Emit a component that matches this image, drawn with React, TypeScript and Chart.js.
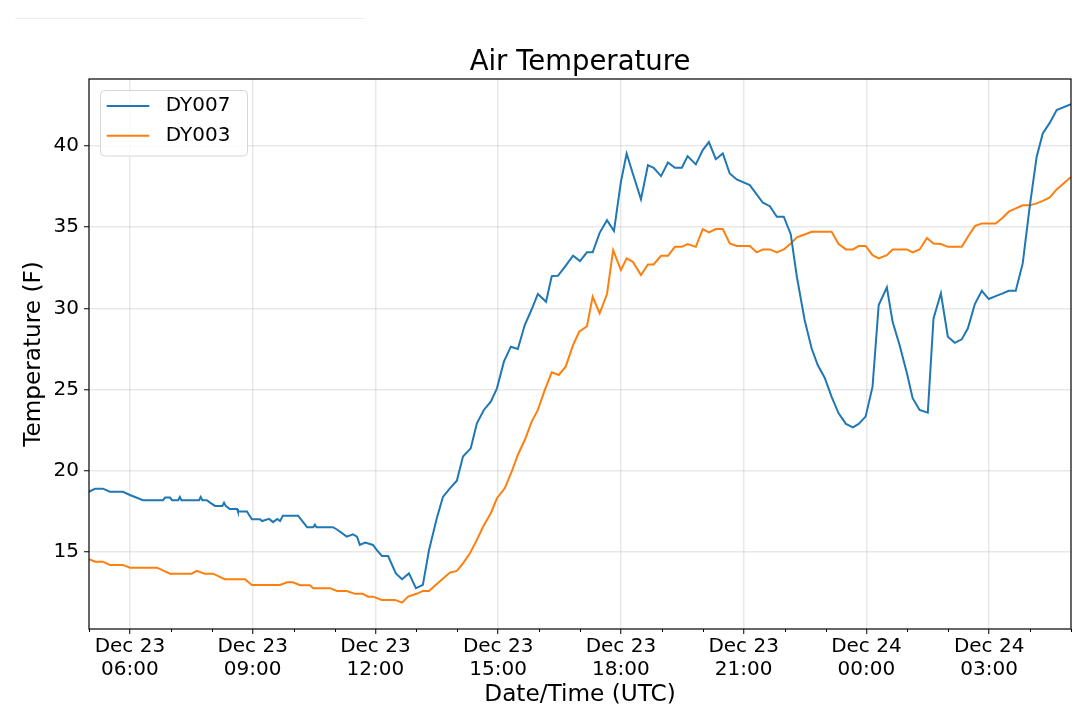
import React, { useEffect, useRef } from "react";
import { Chart, registerables } from "chart.js";

Chart.register(...registerables);

const FONT = "'DejaVu Sans', 'Liberation Sans', sans-serif";

const chartTitle = "Air Temperature";
const xAxisTitle = "Date/Time (UTC)";
const yAxisTitle = "Temperature (F)";
const seriesNames = ["DY007", "DY003"];
const seriesColors = ["#1f77b4", "#ff7f0e"];

// time in hours since Dec 23 00:00 UTC
const dy007Hours = [
  5.0, 5.15, 5.34, 5.51, 5.83, 6.0, 6.32, 6.81, 6.86, 6.98, 7.03, 7.18, 7.22, 7.26, 7.69, 7.73, 7.77, 7.88,
  7.96, 8.08, 8.26, 8.3, 8.34, 8.44, 8.62, 8.64, 8.86, 8.98, 9.18, 9.23, 9.4, 9.5, 9.6, 9.67, 9.74, 10.11,
  10.33, 10.48, 10.52, 10.56, 10.96, 11.06, 11.3, 11.45, 11.55, 11.62, 11.75, 11.94, 12.03, 12.16, 12.31,
  12.5, 12.65, 12.82, 12.99, 13.16, 13.31, 13.5, 13.65, 13.82, 13.99, 14.14, 14.33, 14.48, 14.65, 14.82,
  14.97, 15.14, 15.31, 15.48, 15.65, 15.82, 15.97, 16.17, 16.31, 16.46, 16.63, 16.83, 17.0, 17.17, 17.31,
  17.48, 17.66, 17.83, 18.0, 18.14, 18.29, 18.49, 18.66, 18.8, 18.98, 19.15, 19.32, 19.49, 19.63, 19.83,
  20.0, 20.15, 20.32, 20.49, 20.66, 20.83, 21.15, 21.47, 21.64, 21.81, 21.98, 22.15, 22.3, 22.49, 22.66,
  22.81, 22.98, 23.15, 23.32, 23.5, 23.67, 23.81, 23.98, 24.15, 24.3, 24.5, 24.64, 24.81, 24.99, 25.13,
  25.3, 25.5, 25.64, 25.82, 25.99, 26.16, 26.33, 26.48, 26.65, 26.82, 26.99, 27.16, 27.33, 27.48, 27.65,
  27.82, 27.99, 28.16, 28.31, 28.48, 28.65, 29.0,
];
const dy007Temps = [
  18.72, 18.91, 18.91, 18.72, 18.72, 18.52, 18.2, 18.2, 18.36, 18.36, 18.2, 18.2, 18.4, 18.2, 18.2, 18.4, 18.2, 18.2,
  18.05, 17.85, 17.85, 18.05, 17.85, 17.66, 17.66, 17.5, 17.5, 17.03, 17.03, 16.92, 17.05, 16.85, 17.05, 16.92, 17.25, 17.25,
  16.54, 16.54, 16.7, 16.54, 16.54, 16.4, 15.96, 16.1, 15.96, 15.45, 15.6, 15.45, 15.14, 14.77, 14.77,
  13.7, 13.34, 13.7, 12.79, 12.99, 15.14, 17.09, 18.4, 18.93, 19.4, 20.88, 21.39, 22.93, 23.75, 24.26,
  25.08, 26.72, 27.64, 27.5, 28.97, 29.94, 30.88, 30.4, 31.98, 32.0, 32.55, 33.23, 32.9, 33.44, 33.44,
  34.64, 35.42, 34.75, 37.78, 39.52, 38.29, 36.7, 38.8, 38.64, 38.13, 38.97, 38.64, 38.64, 39.36, 38.85,
  39.73, 40.22, 39.17, 39.52, 38.29, 37.92, 37.58, 36.49, 36.28, 35.63, 35.63, 34.56, 31.94, 29.28, 27.54,
  26.51, 25.73, 24.56, 23.54, 22.89, 22.68, 22.89, 23.34, 25.18, 30.2, 31.29, 29.17, 27.74, 26.0, 24.47,
  23.75, 23.58, 29.38, 30.92, 28.25, 27.88, 28.09, 28.77, 30.26, 31.08, 30.57, 30.75, 30.92, 31.08, 31.08,
  32.76, 36.24, 39.31, 40.75, 41.4, 42.19, 42.55,
];

const dy003Hours = [
  5.0, 5.15, 5.34, 5.51, 5.83, 6.0, 6.66, 6.98, 7.51, 7.63, 7.83, 8.03, 8.32, 8.81, 8.98, 9.67, 9.84, 9.98,
  10.16, 10.4, 10.48, 10.89, 11.06, 11.3, 11.5, 11.69, 11.82, 11.94, 12.16, 12.48, 12.65, 12.8, 13.02, 13.16,
  13.31, 13.5, 13.82, 13.99, 14.14, 14.31, 14.48, 14.63, 14.82, 14.97, 15.16, 15.33, 15.48, 15.65, 15.82,
  15.97, 16.14, 16.31, 16.48, 16.65, 16.83, 16.98, 17.17, 17.31, 17.48, 17.66, 17.81, 18.0, 18.14, 18.29,
  18.49, 18.66, 18.8, 18.98, 19.15, 19.32, 19.49, 19.63, 19.83, 20.0, 20.15, 20.32, 20.49, 20.66, 20.83,
  21.15, 21.32, 21.47, 21.64, 21.81, 21.98, 22.15, 22.3, 22.49, 22.66, 23.15, 23.32, 23.5, 23.67, 23.81,
  23.98, 24.15, 24.3, 24.5, 24.64, 24.99, 25.13, 25.3, 25.48, 25.64, 25.82, 25.99, 26.33, 26.48, 26.65,
  26.82, 27.16, 27.33, 27.48, 27.65, 27.82, 27.99, 28.16, 28.31, 28.48, 28.65, 29.0,
];
const dy003Temps = [
  14.57, 14.42, 14.42, 14.22, 14.22, 14.05, 14.05, 13.68, 13.68, 13.86, 13.68, 13.68, 13.34, 13.34, 12.99, 12.99, 13.15, 13.15,
  12.97, 12.97, 12.79, 12.79, 12.62, 12.62, 12.44, 12.44, 12.27, 12.27, 12.07, 12.07, 11.9, 12.27, 12.46, 12.62,
  12.62, 13.05, 13.75, 13.85, 14.32, 14.94, 15.76, 16.57, 17.4, 18.32, 18.93, 19.95, 20.98, 21.9, 23.03,
  23.75, 24.98, 26.06, 25.9, 26.41, 27.74, 28.56, 28.9, 30.71, 29.69, 30.88, 33.58, 32.35, 33.07, 32.86,
  32.04, 32.7, 32.7, 33.23, 33.23, 33.78, 33.78, 33.95, 33.78, 34.87, 34.67, 34.87, 34.87, 33.99, 33.83,
  33.83, 33.44, 33.62, 33.62, 33.44, 33.62, 33.99, 34.36, 34.54, 34.7, 34.7, 33.95, 33.62, 33.62, 33.83,
  33.83, 33.27, 33.07, 33.27, 33.62, 33.62, 33.44, 33.62, 34.32, 33.99, 33.95, 33.78, 33.78, 34.4, 35.05,
  35.22, 35.22, 35.57, 35.94, 36.14, 36.33, 36.33, 36.45, 36.61, 36.82, 37.31, 38.08,
];

const xTickHours = [5, 6, 7, 8, 9, 10, 11, 12, 13, 14, 15, 16, 17, 18, 19, 20, 21, 22, 23, 24, 25, 26, 27, 28, 29];
const xMajorHours = [6, 9, 12, 15, 18, 21, 24, 27];
const xMajorLabels = [
  ["Dec 23", "06:00"],
  ["Dec 23", "09:00"],
  ["Dec 23", "12:00"],
  ["Dec 23", "15:00"],
  ["Dec 23", "18:00"],
  ["Dec 23", "21:00"],
  ["Dec 24", "00:00"],
  ["Dec 24", "03:00"],
];
const yTickValues = [15, 20, 25, 30, 35, 40];
const xRange = [5, 29];
const yRange = [10.28, 44.1];

const GRID = "rgba(0,0,0,0.09)";

const framePlugin = {
  id: "frame",
  afterDatasetsDraw(chart: any) {
    const { ctx, chartArea: a } = chart;
    ctx.save();
    ctx.strokeStyle = "#000";
    ctx.lineWidth = 1.2;
    ctx.strokeRect(a.left, a.top, a.right - a.left, a.bottom - a.top);
    ctx.restore();
  },
};

const minorTickPlugin = {
  id: "minorTicks",
  afterDraw(chart: any) {
    const { ctx, chartArea: a } = chart;
    const xs = chart.scales.x;
    ctx.save();
    ctx.strokeStyle = "#000";
    ctx.lineWidth = 1;
    xTickHours.forEach((h) => {
      if (xMajorHours.includes(h)) return;
      const px = Math.round(xs.getPixelForValue(h)) + 0.5;
      ctx.beginPath();
      ctx.moveTo(px, a.bottom);
      ctx.lineTo(px, a.bottom + 3);
      ctx.stroke();
    });
    ctx.restore();
  },
};

const legendPlugin = {
  id: "boxLegend",
  afterDraw(chart: any) {
    const { ctx, chartArea: a } = chart;
    const bx = a.left + 11;
    const by = a.top + 11;
    const bw = 147;
    const bh = 65.5;
    ctx.save();
    ctx.beginPath();
    (ctx as any).roundRect(bx + 0.5, by + 0.5, bw, bh, 4);
    ctx.fillStyle = "rgba(255,255,255,0.8)";
    ctx.fill();
    ctx.strokeStyle = "#d6d6d6";
    ctx.lineWidth = 1;
    ctx.stroke();
    chart.data.datasets.forEach((ds: any, i: number) => {
      const y = by + 16 + i * 29.7;
      ctx.beginPath();
      ctx.strokeStyle = ds.borderColor;
      ctx.lineWidth = 2;
      ctx.moveTo(bx + 6.7, y);
      ctx.lineTo(bx + 49.3, y);
      ctx.stroke();
      ctx.fillStyle = "#000";
      ctx.font = `20px ${FONT}`;
      ctx.textBaseline = "middle";
      ctx.textAlign = "left";
      ctx.fillText(ds.label, bx + 65.7, y);
    });
    ctx.restore();
  },
};

export default function App() {
  const ref = useRef<HTMLCanvasElement | null>(null);

  useEffect(() => {
    if (!ref.current) return;
    const chart = new Chart(ref.current, {
      type: "line",
      data: {
        datasets: [
          {
            label: seriesNames[0],
            data: dy007Hours.map((h, i) => ({ x: h, y: dy007Temps[i] })),
            borderColor: seriesColors[0],
            backgroundColor: seriesColors[0],
            borderWidth: 2,
            pointRadius: 0,
            tension: 0,
            fill: false,
          },
          {
            label: seriesNames[1],
            data: dy003Hours.map((h, i) => ({ x: h, y: dy003Temps[i] })),
            borderColor: seriesColors[1],
            backgroundColor: seriesColors[1],
            borderWidth: 2,
            pointRadius: 0,
            tension: 0,
            fill: false,
          },
        ],
      },
      options: {
        responsive: false,
        animation: false,
        layout: { padding: { left: 0, right: 9, top: 0, bottom: 0 } },
        plugins: {
          legend: { display: false },
          tooltip: { enabled: false },
          title: {
            display: true,
            text: chartTitle,
            color: "#000",
            fullSize: false,
            font: { family: FONT, size: 27.5, weight: "normal", lineHeight: 1.2 },
            padding: { top: 46, bottom: 0 },
          },
        },
        scales: {
          x: {
            type: "linear",
            min: xRange[0],
            max: xRange[1],
            afterBuildTicks: (s: any) => {
              s.ticks = xTickHours.map((v) => ({ value: v }));
            },
            afterFit: (s: any) => {
              s.height = 86;
            },
            border: { display: false },
            grid: {
              color: (c: any) => (c.tick && xMajorHours.includes(c.tick.value) ? GRID : "rgba(0,0,0,0)"),
              tickColor: (c: any) => (c.tick && xMajorHours.includes(c.tick.value) ? "#000" : "rgba(0,0,0,0)"),
              lineWidth: 1.5,
              tickLength: 5,
              tickWidth: 1,
            },
            ticks: {
              autoSkip: false,
              maxRotation: 0,
              minRotation: 0,
              padding: 1,
              color: "#000",
              font: { family: FONT, size: 20, lineHeight: 1.17 },
              callback: (v: any) => {
                const idx = xMajorHours.indexOf(Number(v));
                return idx >= 0 ? xMajorLabels[idx] : "";
              },
            },
            title: {
              display: true,
              text: xAxisTitle,
              color: "#000",
              font: { family: FONT, size: 23.2, lineHeight: 1.2 },
              padding: { top: 0, bottom: 5.8 },
            },
          },
          y: {
            type: "linear",
            min: yRange[0],
            max: yRange[1],
            afterBuildTicks: (s: any) => {
              s.ticks = yTickValues.map((v) => ({ value: v }));
            },
            afterFit: (s: any) => {
              s.width = 89;
            },
            border: { display: false },
            grid: {
              color: GRID,
              tickColor: "#000",
              lineWidth: 1.5,
              tickLength: 5,
              tickWidth: 1,
            },
            ticks: {
              padding: 5,
              color: "#000",
              font: { family: FONT, size: 20 },
            },
            title: {
              display: true,
              text: yAxisTitle,
              color: "#000",
              font: { family: FONT, size: 23.2, lineHeight: 1.2 },
              padding: { top: 20.5, bottom: 0 },
            },
          },
        },
      },
      plugins: [framePlugin, minorTickPlugin, legendPlugin],
    } as any);
    return () => chart.destroy();
  }, []);

  return (
    <div
      style={{
        position: "fixed",
        left: 0,
        top: 0,
        width: 1080,
        height: 715,
        background: "#fff",
        overflow: "hidden",
      }}
    >
      <div style={{ position: "absolute", left: 15, top: 18, width: 350, height: 1, background: "#efefef" }} />
      <canvas ref={ref} width={1080} height={715} style={{ display: "block" }} />
    </div>
  );
}
